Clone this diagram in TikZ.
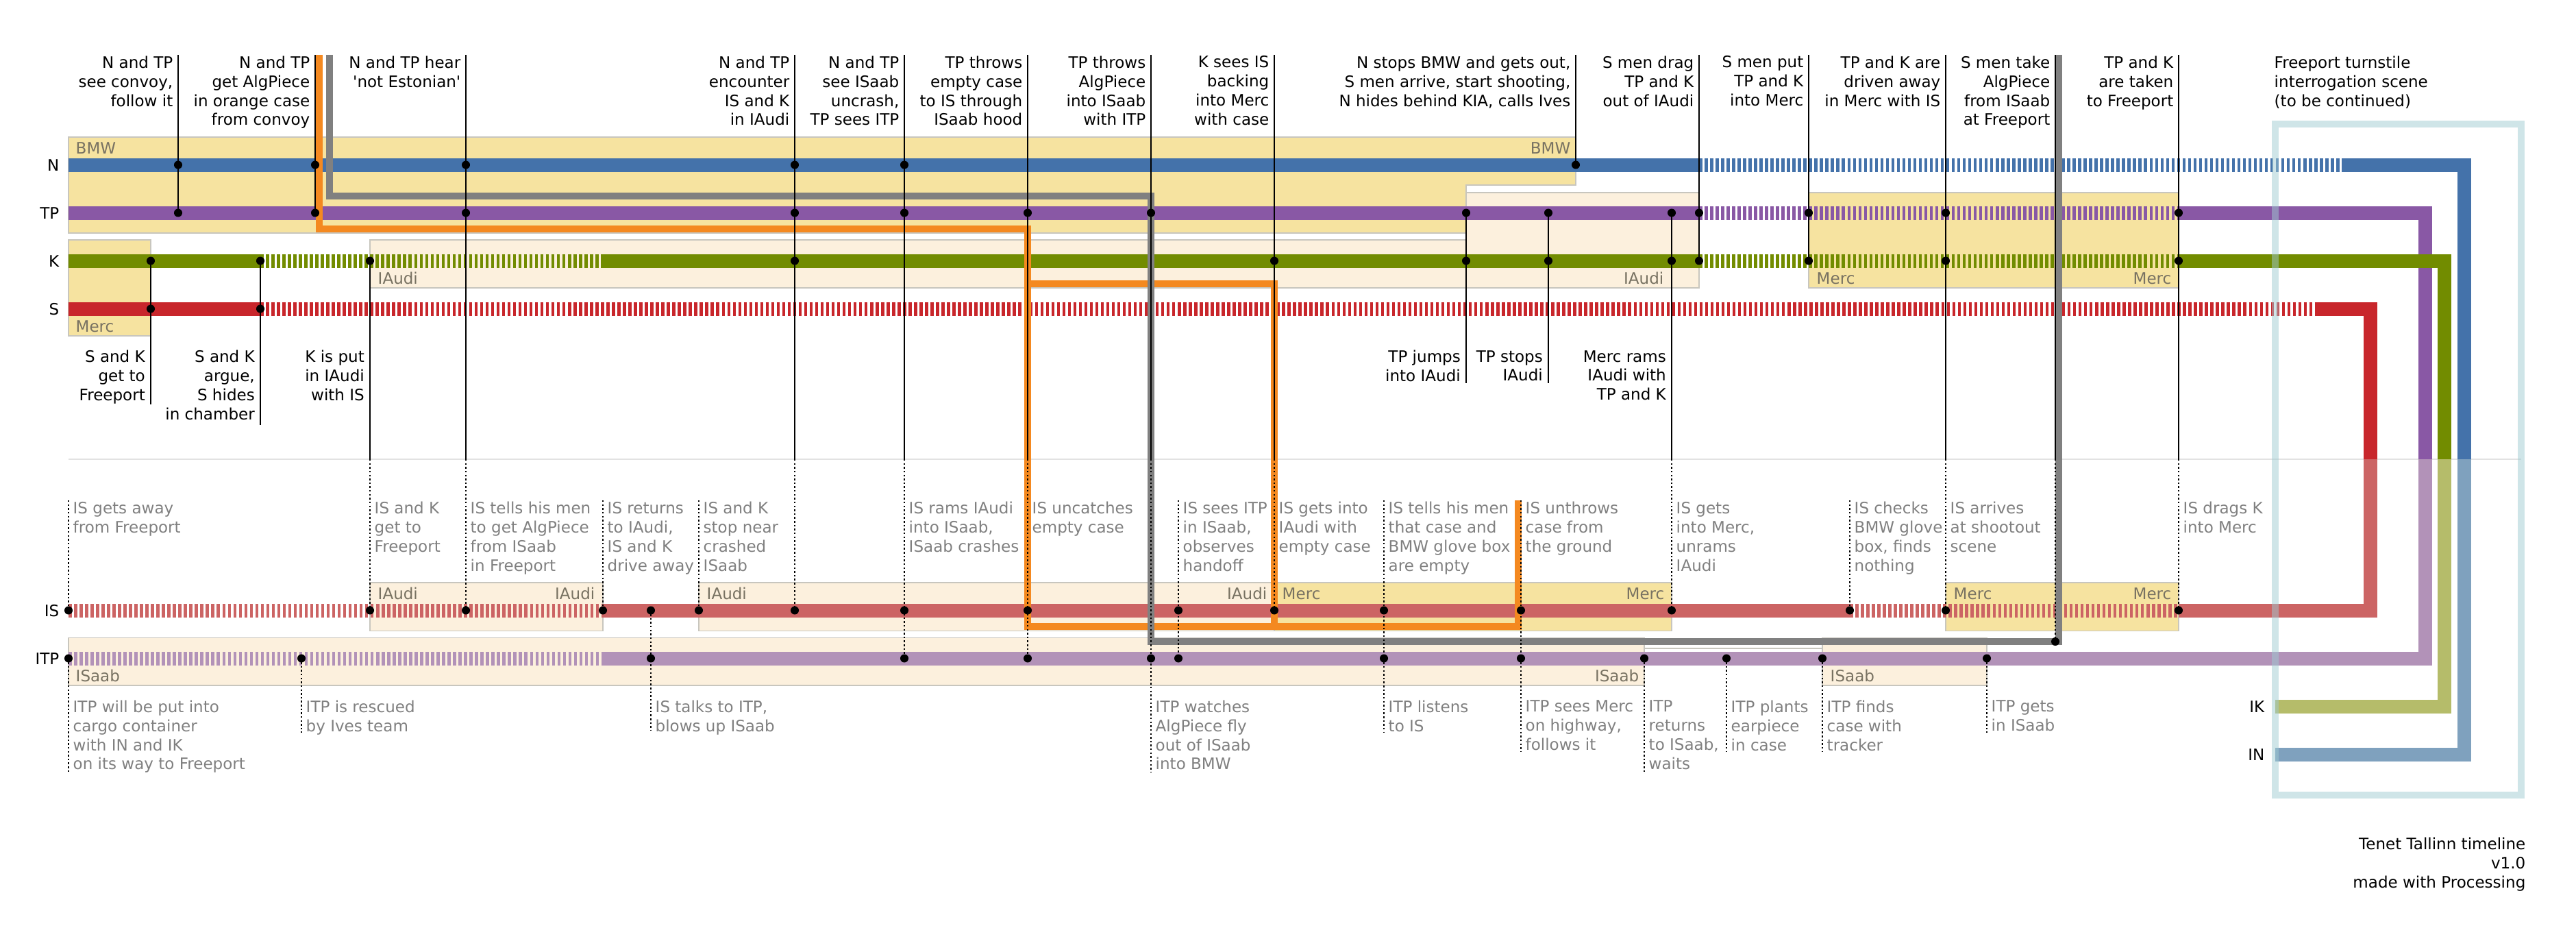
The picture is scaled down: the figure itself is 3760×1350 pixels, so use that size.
\documentclass[tikz,border=0pt]{standalone}
\usepackage{fontspec}
\setmainfont{DejaVu Sans}
\definecolor{cN}{RGB}{68,114,170}
\definecolor{cTP}{RGB}{137,88,165}
\definecolor{cK}{RGB}{114,140,0}
\definecolor{cS}{RGB}{200,38,43}
\definecolor{cIS}{RGB}{204,100,100}
\definecolor{cITP}{RGB}{178,146,184}
\definecolor{cIK}{RGB}{181,188,106}
\definecolor{cIN}{RGB}{127,161,190}
\definecolor{cOr}{RGB}{244,137,32}
\definecolor{cGr}{RGB}{128,128,128}
\definecolor{cTeal}{RGB}{160,203,210}
\definecolor{cYel}{RGB}{246,227,160}
\definecolor{cCream}{RGB}{252,240,221}
\definecolor{cBord}{RGB}{200,198,190}
\definecolor{cBlab}{RGB}{120,114,98}
\definecolor{cTxt}{RGB}{128,128,128}
\definecolor{cSep}{RGB}{226,226,226}
\begin{document}
\begin{tikzpicture}[x=0.01cm,y=-0.01cm,
  lab/.style={inner sep=0pt, font={\fontsize{6.55}{7.94}\selectfont}},
  stl/.style={lab, execute at begin node=\strut},
  tl/.style={stl, anchor=north east, align=right},
  tr/.style={stl, anchor=north west, align=left},
  gl/.style={stl, anchor=north west, align=left, text=cTxt},
  lanelab/.style={lab, anchor=base east},
  blw/.style={lab, anchor=base west, text=cBlab},
  ble/.style={lab, anchor=base east, text=cBlab},
  ybox/.style={fill=cYel, draw=cBord, line width=0.5pt},
  cbox/.style={fill=cCream, draw=cBord, line width=0.5pt},
  lane/.style={line width=5.69pt, line join=miter, line cap=butt},
  ds/.style={dash pattern=on 1.28pt off 1pt},
  thread/.style={line width=2.8pt, line join=miter, line cap=butt},
  evl/.style={line width=0.45pt, black},
  evd/.style={line width=0.55pt, black, dash pattern=on 0.7pt off 0.9pt},
  dot/.style={fill=black}
]
\useasboundingbox (0,0) rectangle (3760,1350);

% ---------- vehicle boxes ----------
\path[ybox] (100,200) -- (2300,200) -- (2300,270) -- (2140,270) -- (2140,340) -- (100,340) -- cycle;
\path[ybox] (100,350) rectangle (220,490);
\path[cbox] (540,350) -- (2140,350) -- (2140,281) -- (2480,281) -- (2480,420) -- (540,420) -- cycle;
\path[ybox] (2640,281) rectangle (3180,420);
\path[cbox] (540,850) rectangle (880,920.5);
\path[cbox] (1020,850) rectangle (1860,920.5);
\path[ybox] (1860,850) rectangle (2440,920.5);
\path[ybox] (2840,850) rectangle (3180,920.5);
\path[cbox] (100,930.5) rectangle (2400,1000);
\path[fill=white, draw=cBord, line width=0.5pt] (2400,946) rectangle (2660,970);
\path[cbox] (2660,930.5) rectangle (2900,1000);

% ---------- separator ----------
\draw[cSep, line width=0.6pt] (100,670) -- (3680,670);

% ---------- lanes ----------
% N
\draw[lane,cN] (100,240.5) -- (2480,240.5);
\draw[lane,cN,ds] (2480,240.5) -- (3420,240.5);
\draw[lane,cN] (3420,240.5) -- (3597,240.5) -- (3597,670);
\draw[lane,cIN] (3597,670) -- (3597,1100.5) -- (3321,1100.5);
% TP
\draw[lane,cTP] (100,310.5) -- (2480,310.5);
\draw[lane,cTP,ds] (2480,310.5) -- (3180,310.5);
\draw[lane,cTP] (3180,310.5) -- (3540,310.5) -- (3540,670);
% K
\draw[lane,cK] (100,380.5) -- (380,380.5);
\draw[lane,cK,ds] (380,380.5) -- (880,380.5);
\draw[lane,cK] (880,380.5) -- (2480,380.5);
\draw[lane,cK,ds] (2480,380.5) -- (3180,380.5);
\draw[lane,cK] (3180,380.5) -- (3568,380.5) -- (3568,670);
\draw[lane,cIK] (3568,670) -- (3568,1030.5) -- (3321,1030.5);
% S
\draw[lane,cS] (100,450.5) -- (380,450.5);
\draw[lane,cS,ds] (380,450.5) -- (3380,450.5);
\draw[lane,cS] (3380,450.5) -- (3460,450.5) -- (3460,670);
% IS
\draw[lane,cIS,ds] (100,890.5) -- (880,890.5);
\draw[lane,cIS] (880,890.5) -- (2700,890.5);
\draw[lane,cIS,ds] (2700,890.5) -- (3180,890.5);
\draw[lane,cIS] (3180,890.5) -- (3460,890.5) -- (3460,670);
% ITP
\draw[lane,cITP,ds] (100,960.5) -- (880,960.5);
\draw[lane,cITP] (880,960.5) -- (3540,960.5) -- (3540,670);

% ---------- case (orange) and AlgPiece (gray) ----------
\draw[thread,cOr] (466,80) -- (466,334) -- (1500,334) -- (1500,914) -- (2216,914) -- (2216,730);
\draw[thread,cOr] (1500,414) -- (1860,414) -- (1860,914);
\draw[thread,cGr] (481,80) -- (481,286) -- (1680,286) -- (1680,936) -- (3005,936) -- (3005,80);

% ---------- event lines ----------
\draw[evl] (260,80) -- (260,310.5);
\draw[evl] (460,80) -- (460,310.5);
\draw[evl] (680,80) -- (680,670);
\draw[evl] (1160,80) -- (1160,670);
\draw[evl] (1320,80) -- (1320,670);
\draw[evl] (1500,80) -- (1500,670);
\draw[evl] (1680,80) -- (1680,670);
\draw[evl] (1860,80) -- (1860,670);
\draw[evl] (2300,80) -- (2300,240.5);
\draw[evl] (2480,80) -- (2480,380.5);
\draw[evl] (2640,80) -- (2640,380.5);
\draw[evl] (2840,80) -- (2840,670);
\draw[evl] (3000,80) -- (3000,670);
\draw[evl] (3180,80) -- (3180,670);
\draw[evl] (220,380.5) -- (220,590);
\draw[evl] (380,380.5) -- (380,620);
\draw[evl] (540,380.5) -- (540,670);
\draw[evl] (2140,310.5) -- (2140,559);
\draw[evl] (2260,310.5) -- (2260,559);
\draw[evl] (2440,310.5) -- (2440,670);
% dotted continuations in the lower part
\draw[evd] (100,730) -- (100,890.5);
\draw[evd] (540,670) -- (540,890.5);
\draw[evd] (680,670) -- (680,890.5);
\draw[evd] (880,730) -- (880,890.5);
\draw[evd] (1020,730) -- (1020,890.5);
\draw[evd] (1160,670) -- (1160,890.5);
\draw[evd] (1320,670) -- (1320,960.5);
\draw[evd] (1500,670) -- (1500,960.5);
\draw[evd] (1680,670) -- (1680,1126);
\draw[evd] (1720,730) -- (1720,960.5);
\draw[evd] (1860,670) -- (1860,890.5);
\draw[evd] (2020,730) -- (2020,1069);
\draw[evd] (2220,730) -- (2220,1096);
\draw[evd] (2440,670) -- (2440,890.5);
\draw[evd] (2700,730) -- (2700,890.5);
\draw[evd] (2840,670) -- (2840,890.5);
\draw[evd] (3000,670) -- (3000,936);
\draw[evd] (3180,670) -- (3180,890.5);
\draw[evd] (100,960.5) -- (100,1127);
\draw[evd] (440,960.5) -- (440,1069);
\draw[evd] (950,890.5) -- (950,1065);
\draw[evd] (2400,960.5) -- (2400,1127);
\draw[evd] (2520,960.5) -- (2520,1096);
\draw[evd] (2660,960.5) -- (2660,1096);
\draw[evd] (2900,960.5) -- (2900,1069);

% ---------- dots ----------
\foreach \x in {260,460,680,1160,1320,2300} \fill[dot] (\x,240.5) circle[radius=0.06cm];
\foreach \x in {260,460,680,1160,1320,1500,1680,2140,2260,2440,2480,2640,2840,3180} \fill[dot] (\x,310.5) circle[radius=0.06cm];
\foreach \x in {220,380,540,1160,1860,2140,2260,2440,2480,2640,2840,3180} \fill[dot] (\x,380.5) circle[radius=0.06cm];
\foreach \x in {220,380} \fill[dot] (\x,450.5) circle[radius=0.06cm];
\foreach \x in {100,540,680,880,950,1020,1160,1320,1500,1720,1860,2020,2220,2440,2700,2840,3180} \fill[dot] (\x,890.5) circle[radius=0.06cm];
\foreach \x in {100,440,950,1320,1500,1680,1720,2020,2220,2400,2520,2660,2900} \fill[dot] (\x,960.5) circle[radius=0.06cm];
\fill[dot] (3000,936) circle[radius=0.06cm];

% ---------- Freeport frame ----------
\draw[cTeal, opacity=0.5, line width=2.85pt] (3321,181) rectangle (3680,1160);

% ---------- lane labels ----------
\node[lanelab] (lN) at (87,249) {N};
\node[lanelab] (lTP) at (87,319) {TP};
\node[lanelab] (lK) at (87,389) {K};
\node[lanelab] (lS) at (87,459) {S};
\node[lanelab] (lIS) at (87,899) {IS};
\node[lanelab] (lITP) at (87,969) {ITP};
\node[lanelab] (lIK) at (3306,1039) {IK};
\node[lanelab] (lIN) at (3306,1109) {IN};

% ---------- vehicle labels ----------
\node[blw] (b1) at (110,224) {BMW};
\node[ble] (b2) at (2293,224) {BMW};
\node[blw] (b3) at (110,484.5) {Merc};
\node[blw] (b4) at (551,414) {IAudi};
\node[ble] (b5) at (2429,414) {IAudi};
\node[blw] (b6) at (2651,414) {Merc};
\node[ble] (b7) at (3170,414) {Merc};
\node[blw] (b8) at (551,874) {IAudi};
\node[ble] (b9) at (869,874) {IAudi};
\node[blw] (b10) at (1031,874) {IAudi};
\node[ble] (b11) at (1850,874) {IAudi};
\node[blw] (b12) at (1871,874) {Merc};
\node[ble] (b13) at (2430,874) {Merc};
\node[blw] (b14) at (2851,874) {Merc};
\node[ble] (b15) at (3170,874) {Merc};
\node[blw] (b16) at (110,994) {ISaab};
\node[ble] (b17) at (2393,994) {ISaab};
\node[blw] (b18) at (2671,994) {ISaab};

% ---------- top event texts ----------
\node[tl] (t260) at (253,81) {N and TP\\see convoy,\\follow it};
\node[tl] (t460) at (453,81) {N and TP\\get AlgPiece\\in orange case\\from convoy};
\node[tl] (t680) at (673,81) {N and TP hear\\\textquotesingle not Estonian\textquotesingle};
\node[tl] (t1160) at (1153,81) {N and TP\\encounter\\IS and K\\in IAudi};
\node[tl] (t1320) at (1313,81) {N and TP\\see ISaab\\uncrash,\\TP sees ITP};
\node[tl] (t1500) at (1493,81) {TP throws\\empty case\\to IS through\\ISaab hood};
\node[tl] (t1680) at (1673,81) {TP throws\\AlgPiece\\into ISaab\\with ITP};
\node[tl] (t1860) at (1853,81) {K sees IS\\backing\\into Merc\\with case};
\node[tl] (t2300) at (2293,81) {N stops BMW and gets out,\\S men arrive, start shooting,\\N hides behind KIA, calls Ives};
\node[tl] (t2480) at (2473,81) {S men drag\\TP and K\\out of IAudi};
\node[tl] (t2640) at (2633,81) {S men put\\TP and K\\into Merc};
\node[tl] (t2840) at (2833,81) {TP and K are\\driven away\\in Merc with IS};
\node[tl] (t3000) at (2993,81) {S men take\\AlgPiece\\from ISaab\\at Freeport};
\node[tl] (t3180) at (3173,81) {TP and K\\are taken\\to Freeport};
\node[tr] (tfp) at (3319,81) {Freeport turnstile\\interrogation scene\\(to be continued)};

% ---------- texts below the upper lanes ----------
\node[tl] (u220) at (212.5,510.5) {S and K\\get to\\Freeport};
\node[tl] (u380) at (372.5,510.5) {S and K\\argue,\\S hides\\in chamber};
\node[tl] (u540) at (532.5,510.5) {K is put\\in IAudi\\with IS};
\node[tl] (u2140) at (2132.5,510.5) {TP jumps\\into IAudi};
\node[tl] (u2260) at (2252.5,510.5) {TP stops\\IAudi};
\node[tl] (u2440) at (2432.5,510.5) {Merc rams\\IAudi with\\TP and K};

% ---------- IS texts ----------
\node[gl] (s100) at (106,731.5) {IS gets away\\from Freeport};
\node[gl] (s540) at (546,731.5) {IS and K\\get to\\Freeport};
\node[gl] (s680) at (686,731.5) {IS tells his men\\to get AlgPiece\\from ISaab\\in Freeport};
\node[gl] (s880) at (886,731.5) {IS returns\\to IAudi,\\IS and K\\drive away};
\node[gl] (s1020) at (1026,731.5) {IS and K\\stop near\\crashed\\ISaab};
\node[gl] (s1320) at (1326,731.5) {IS rams IAudi\\into ISaab,\\ISaab crashes};
\node[gl] (s1500) at (1506,731.5) {IS uncatches\\empty case};
\node[gl] (s1720) at (1726,731.5) {IS sees ITP\\in ISaab,\\observes\\handoff};
\node[gl] (s1860) at (1866,731.5) {IS gets into\\IAudi with\\empty case};
\node[gl] (s2020) at (2026,731.5) {IS tells his men\\that case and\\BMW glove box\\are empty};
\node[gl] (s2220) at (2226,731.5) {IS unthrows\\case from\\the ground};
\node[gl] (s2440) at (2446,731.5) {IS gets\\into Merc,\\unrams\\IAudi};
\node[gl] (s2700) at (2706,731.5) {IS checks\\BMW glove\\box, finds\\nothing};
\node[gl] (s2840) at (2846,731.5) {IS arrives\\at shootout\\scene};
\node[gl] (s3180) at (3186,731.5) {IS drags K\\into Merc};

% ---------- ITP texts ----------
\node[gl] (i100) at (106,1021) {ITP will be put into\\cargo container\\with IN and IK\\on its way to Freeport};
\node[gl] (i440) at (446,1021) {ITP is rescued\\by Ives team};
\node[gl] (i950) at (956,1021) {IS talks to ITP,\\blows up ISaab};
\node[gl] (i1680) at (1686,1021) {ITP watches\\AlgPiece fly\\out of ISaab\\into BMW};
\node[gl] (i2020) at (2026,1021) {ITP listens\\to IS};
\node[gl] (i2220) at (2226,1021) {ITP sees Merc\\on highway,\\follows it};
\node[gl] (i2400) at (2406,1021) {ITP\\returns\\to ISaab,\\waits};
\node[gl] (i2520) at (2526,1021) {ITP plants\\earpiece\\in case};
\node[gl] (i2660) at (2666,1021) {ITP finds\\case with\\tracker};
\node[gl] (i2900) at (2906,1021) {ITP gets\\in ISaab};

% ---------- credit ----------
\node[tl] (credit) at (3687,1221.5) {Tenet Tallinn timeline\\v1.0\hspace*{0.28em}\\made with Processing};
\end{tikzpicture}
\end{document}
